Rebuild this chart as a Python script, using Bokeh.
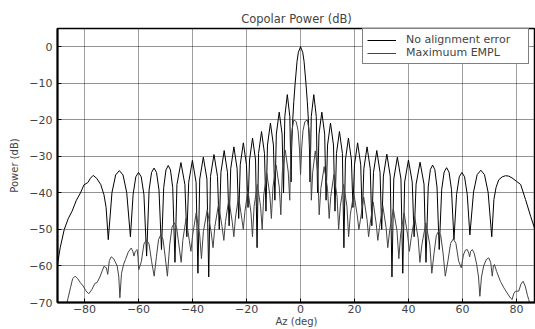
from bokeh.plotting import figure
from bokeh.models import Range1d, FixedTicker
from bokeh.embed import file_html
from bokeh.resources import INLINE

# ---- data ----
x_ticks = [-80, -60, -40, -20, 0, 20, 40, 60, 80]
y_ticks = [-70, -60, -50, -40, -30, -20, -10, 0]

az_no = [
    -90, -89, -87.5, -86, -84.6, -83, -81.5, -80.2, -78.8, -77.8, -76.8, -75.5, -74, -72.8, -72, -71.2,
    -69.83, -68.47, -67.1, -65.73, -64.37, -63.0,
    -62, -61, -60, -59, -58, -57.0,
    -56.08, -55.17, -54.25, -53.33, -52.42, -51.5,
    -50.67, -49.83, -49.0, -48.17, -47.33, -46.5,
    -45.77, -44.3, -42.83, -42.1,
    -41.42, -40.05, -38.68, -38.0,
    -37.33, -36.0, -34.67, -34.0,
    -33.35, -32.05, -30.75, -30.1,
    -29.49, -28.28, -27.06, -26.45,
    -25.86, -24.68, -23.49, -22.9,
    -22.33, -21.18, -20.03, -19.45,
    -18.89, -17.78, -16.66, -16.1,
    -15.55, -14.45, -13.35, -12.8,
    -12.25, -11.15, -10.05, -9.5,
    -8.97, -7.9, -6.83, -6.3,
    -5.83, -4.9, -3.97, -3.5,
    -3.3, -2.9, -2.5, -2.0, -1.3, -0.8, 0, 0.8, 1.3, 2.0, 2.5, 2.9, 3.3, 3.5,
    3.97, 4.9, 5.83, 6.3,
    6.83, 7.88, 8.93, 9.45,
    10.0, 11.1, 12.2, 12.75,
    13.3, 14.4, 15.5, 16.05,
    16.61, 17.73, 18.84, 19.4,
    19.98, 21.13, 22.28, 22.85,
    23.44, 24.63, 25.81, 26.4,
    27.01, 28.23, 29.44, 30.05,
    30.68, 31.95, 33.22, 33.85,
    34.52, 35.85, 37.18, 37.85,
    38.55, 39.95, 41.35, 42.05,
    42.78, 44.25, 45.72, 46.45,
    47.27, 48.08, 48.9, 49.72, 50.53, 51.35,
    52.26, 53.17, 54.08, 54.98, 55.89, 56.8,
    57.78, 58.77, 59.75, 60.73, 61.72, 62.7,
    64.05, 65.4, 66.75, 68.1, 69.45, 70.8,
    71.6, 72.4, 73.4, 74.7, 75.9, 77.1, 78.3, 79.9, 81.5, 83.3, 85.2, 86.8, 88, 90,
]
pw_no = [
    -59.5, -55, -50, -47, -45, -42, -40, -37.8, -37.2, -36, -35.2, -36, -37.7, -40.5, -44, -52.8,
    -39.9, -35.1, -33.9, -35.1, -39.9, -52.0,
    -40.4, -35.6, -34.4, -35.6, -40.4, -57.3,
    -39.2, -34.4, -33.2, -34.4, -39.2, -55.5,
    -38.5, -33.7, -32.5, -33.7, -38.5, -59,
    -37.7, -31.7, -37.7, -52,
    -37.1, -31.1, -37.1, -62,
    -36.2, -30.2, -36.2, -63,
    -35.5, -29.5, -35.5, -50,
    -34.4, -28.4, -34.4, -49,
    -33.4, -27.4, -33.4, -47,
    -32.3, -26.3, -32.3, -44,
    -31, -25, -31, -55,
    -29.2, -23.2, -29.2, -45,
    -26.9, -20.9, -26.9, -42,
    -23.9, -17.9, -23.9, -40,
    -19.1, -13.1, -19.1, -37,
    -28, -20, -15, -10, -4, -1.5, 0, -1.5, -4, -10, -15, -20, -28, -37,
    -19.1, -13.1, -19.1, -40,
    -23.9, -17.9, -23.9, -42,
    -26.9, -20.9, -26.9, -45,
    -29.2, -23.2, -29.2, -55,
    -31, -25, -31, -44,
    -32.3, -26.3, -32.3, -47,
    -33.4, -27.4, -33.4, -49,
    -34.4, -28.4, -34.4, -50,
    -35.4, -29.4, -35.4, -63,
    -36.2, -30.2, -36.2, -62,
    -37, -31, -37, -52,
    -37.6, -31.6, -37.6, -59,
    -38.4, -33.6, -32.4, -33.6, -38.4, -55.5,
    -39.1, -34.3, -33.1, -34.3, -39.1, -52.8,
    -40.4, -35.6, -34.4, -35.6, -40.4, -51.5,
    -39.8, -35.0, -33.8, -35.0, -39.8, -52,
    -41.8, -38.5, -36.4, -35.6, -35.3, -35.4, -35.9, -36.8, -37.7, -41.8, -46.4, -50, -53, -57,
]

az_max = [
    -86.8, -86.0, -85.2, -84.4, -83.5, -82.5, -81.5, -80.5, -79.5, -78.4, -77.3, -76.2, -75.3, -74.3,
    -72.8, -71.9, -71.4, -70.8, -70.1, -69.2, -67.9, -67.3, -66.9, -66.3, -65.5, -64.8, -63.8, -62.7,
    -62.1, -61.7, -61.2, -60.5, -60.2, -59.9,
    -58.95, -58.0, -57.05, -56.1, -55.15, -54.2,
    -53.38, -52.57, -51.75, -50.93, -50.12, -49.3,
    -48.45, -47.6, -46.75, -45.9, -45.05, -44.2,
    -43.6, -42.4, -41.2, -40.6,
    -39.95, -38.65, -37.35, -36.7,
    -35.98, -34.55, -33.12, -32.4,
    -31.73, -30.4, -29.07, -28.4,
    -27.78, -26.55, -25.32, -24.7,
    -24.12, -22.95, -21.78, -21.2,
    -20.63, -19.5, -18.37, -17.8,
    -17.2, -16.0, -14.8, -14.2,
    -13.63, -12.5, -11.37, -10.8,
    -10.22, -9.05, -7.88, -7.3,
    -6.75, -5.65, -4.55, -4.0,
    -3.6, -3.2, -2.5, -1.6, -0.9, -0.4, 0, 0.4, 0.9, 1.6, 2.5, 3.2, 3.6, 4.0,
    4.48, 5.45, 6.42, 6.9,
    7.52, 8.75, 9.98, 10.6,
    11.18, 12.35, 13.52, 14.1,
    14.72, 15.95, 17.18, 17.8,
    18.43, 19.7, 20.97, 21.6,
    22.2, 23.4, 24.6, 25.2,
    25.77, 26.9, 28.03, 28.6,
    29.22, 30.45, 31.68, 32.3,
    32.98, 34.35, 35.72, 36.4,
    37.05, 38.35, 39.65, 40.3,
    40.95, 42.25, 43.55, 44.2,
    44.93, 46.4, 47.87, 48.6,
    49.43, 50.27, 51.1, 51.93, 52.77, 53.6,
    54.58, 55.57, 56.55, 57.53, 58.52, 59.5,
    60.3, 61.0, 61.7, 62.3, 62.6, 63.0, 63.6, 64.3, 65.2, 65.9, 66.4, 67.0, 67.8, 68.8,
    69.7, 70.4, 71.0, 71.4, 71.8, 72.6, 74.0, 75.3, 76.5, 77.5, 78.3, 79.0, 79.6, 80.8,
    81.6, 82.4, 83.2, 84.0, 84.5, 85.2,
]
pw_max = [
    -71, -68.5, -66, -63.5, -62.8, -63.5, -64.6, -65.5, -66.8, -67.6, -66.5, -64.8, -64.5, -63,
    -60.1, -60.5, -62.3, -58.5, -57.5, -58, -60, -63, -68.7, -62, -59.5, -58.2, -56.2, -55.1,
    -56, -57.3, -56, -55.5, -57.5, -61,
    -58.8, -54.0, -52.8, -54.0, -58.8, -62.8,
    -57.5, -52.7, -51.5, -52.7, -57.5, -62.8,
    -54.2, -49.4, -48.2, -49.4, -54.2, -59,
    -53, -47, -53, -56,
    -51.5, -45.5, -51.5, -58,
    -50.6, -44.6, -50.6, -55,
    -49.2, -43.2, -49.2, -53,
    -47.8, -41.8, -47.8, -52,
    -46.9, -40.9, -46.9, -50,
    -45.3, -39.3, -45.3, -52,
    -43.7, -37.7, -43.7, -50,
    -40.6, -34.6, -40.6, -47,
    -38.4, -32.4, -38.4, -46,
    -34.3, -28.3, -34.3, -42,
    -28, -23, -20, -20.5, -23, -28, -35, -28, -23, -20.5, -20, -23, -28, -42,
    -34.5, -28.5, -34.5, -46,
    -38.8, -32.8, -38.8, -47,
    -41, -35, -41, -50,
    -43.7, -37.7, -43.7, -52,
    -46, -40, -46, -50,
    -47.2, -41.2, -47.2, -52,
    -48.5, -42.5, -48.5, -53,
    -49.5, -43.5, -49.5, -55,
    -50.4, -44.4, -50.4, -58,
    -51.5, -45.5, -51.5, -56,
    -52.5, -46.5, -52.5, -59,
    -54.2, -48.2, -54.2, -62,
    -56.5, -51.7, -50.5, -51.7, -56.5, -62.8,
    -58.6, -53.8, -52.6, -53.8, -58.6, -60.5,
    -57, -55.7, -55.5, -56.5, -57.5, -56, -55.5, -56.5, -59.5, -63, -68.3, -63, -60, -58.2,
    -57.8, -59, -62.8, -60, -59.6, -61.5, -64.2, -66, -67.4, -68.5, -69.2, -67.5, -66.9, -66.9,
    -65, -64.2, -65.5, -68, -69.2, -71,
]

FONT = "DejaVu Sans"

p = figure(width=535, height=329, x_range=Range1d(-90, 87), y_range=Range1d(-70, 5),
           output_backend="svg", toolbar_location=None, title="Copolar Power (dB)",
           min_border_left=57, min_border_right=0, min_border_top=28, min_border_bottom=26)

p.title.text_font = FONT
p.title.text_font_size = "11.5px"
p.title.text_font_style = "normal"
p.title.align = "center"
p.title.standoff = 6
p.title.offset = 0

p.line(az_no, pw_no, line_color="black", line_width=1, legend_label="No alignment error")
p.line(az_max, pw_max, line_color="#444444", line_width=1, legend_label="Maximuum EMPL")

p.xaxis.ticker = FixedTicker(ticks=x_ticks)
p.yaxis.ticker = FixedTicker(ticks=y_ticks)
p.xaxis.axis_label = "Az (deg)"
p.yaxis.axis_label = "Power (dB)"
for ax in (p.xaxis, p.yaxis):
    ax.axis_label_text_font = FONT
    ax.axis_label_text_font_size = "10px"
    ax.axis_label_text_font_style = "normal"
    ax.major_label_text_font = FONT
    ax.major_label_text_font_size = "11px"
    ax.major_tick_in = 4
    ax.major_tick_out = 0
    ax.minor_tick_line_color = None
    ax.axis_line_width = 2
    ax.axis_line_color = "black"
p.xaxis.major_label_standoff = 2
p.xaxis.axis_label_standoff = 0
p.yaxis.major_label_standoff = 5
p.yaxis.axis_label_standoff = 6

p.xgrid.grid_line_color = "black"
p.ygrid.grid_line_color = "black"
p.xgrid.grid_line_dash = "1 1"
p.ygrid.grid_line_dash = "1 1"
p.xgrid.grid_line_alpha = 0.75
p.ygrid.grid_line_alpha = 0.85

p.outline_line_color = "black"
p.outline_line_width = 1.5
p.background_fill_color = "white"
p.border_fill_color = "white"

lg = p.legend[0]
lg.location = (305, 238)
lg.label_text_font = FONT
lg.label_text_font_size = "11px"
lg.glyph_width = 29
lg.glyph_height = 10
lg.label_height = 10
lg.label_width = 118
lg.label_standoff = 10
lg.padding = 4
lg.spacing = 0
lg.margin = 0
lg.border_line_color = "black"
lg.border_line_width = 1.2
lg.background_fill_alpha = 1.0

open("out.html", "w").write(file_html(p, INLINE))
